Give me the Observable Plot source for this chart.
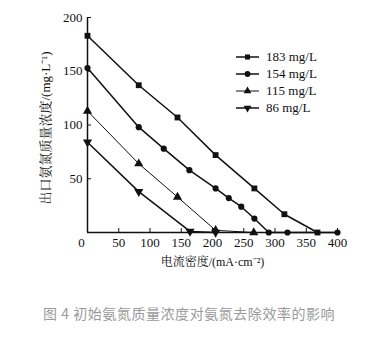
<!DOCTYPE html>
<html><head><meta charset="utf-8">
<script src="https://cdn.jsdelivr.net/npm/d3@7"></script>
<script src="https://cdn.jsdelivr.net/npm/@observablehq/plot@0.6"></script>
<style>
body{margin:0;background:#fff;}
#wrap{position:relative;width:383px;height:280px;}
#legend{position:absolute;left:236px;top:48px;font-family:'Liberation Serif',serif;font-size:13px;color:#111;}
#legend .row{display:flex;align-items:center;height:17px;}
#legend svg{margin-right:7px;}
#caption{font-family:'Noto Sans CJK SC','Noto Sans',sans-serif;font-size:14px;color:#9a9a9a;padding-top:23px;padding-left:43px;line-height:20px;letter-spacing:0.55px;}
</style></head><body>
<div id="wrap"><div id="chart"></div><div id="legend"></div></div>
<div id="caption">图 4 初始氨氮质量浓度对氨氮去除效率的影响</div>
<script>
const seriesNames = ["183 mg/L", "154 mg/L", "115 mg/L", "86 mg/L"];
const x183 = [0, 82, 144, 205, 267, 315, 368];
const y183 = [183, 137, 107, 72, 41, 17, 0];
const x154 = [0, 82, 122, 163, 205, 226, 246, 267, 290, 320, 400];
const y154 = [153, 98, 78, 58, 41, 32, 24, 13, 0, 0, 0];
const x115 = [0, 82, 144, 205, 266];
const y115 = [113, 64, 33, 2, 0];
const x86 = [0, 82, 164, 205];
const y86 = [84, 38, 1, 0];
const xTicks = [50, 100, 150, 200, 250, 300, 350, 400];
const yTicks = [50, 100, 150, 200];
const xLabel = "电流密度/(mA·cm⁻²)";
const yLabel = "出口氨氮质量浓度/(mg·L⁻¹)";

const triangleDown = {
  draw(ctx, size) {
    const y = -Math.sqrt(size / (Math.sqrt(3) * 3));
    const s = Math.sqrt(3);
    ctx.moveTo(0, -y * 2);
    ctx.lineTo(-s * y, y);
    ctx.lineTo(s * y, y);
    ctx.closePath();
  }
};
const symbols = ["square", "circle", "triangle", triangleDown];
const widths = [1.5, 1.5, 1, 1.5];
const radii = [3.3, 3.1, 3.4, 3.4];

const xs = [x183, x154, x115, x86];
const ys = [y183, y154, y115, y86];
const series = xs.map((xv, i) => xv.map((x, j) => ({x, y: ys[i][j], s: seriesNames[i]})));

const font = "'Liberation Serif','Noto Serif CJK SC','Noto Sans CJK SC',serif";
const marks = [];
series.forEach((d, i) => {
  marks.push(Plot.line(d, {x: "x", y: "y", stroke: "#111", strokeWidth: widths[i]}));
});
series.forEach((d, i) => {
  marks.push(Plot.dot(d, {x: "x", y: "y", symbol: () => symbols[i], fill: "#111", stroke: "none", r: radii[i]}));
});
marks.push(Plot.ruleY([0], {stroke: "#111", strokeWidth: 1.5}));
marks.push(Plot.ruleX([0], {stroke: "#111", strokeWidth: 1.5}));
marks.push(Plot.axisX(xTicks, {tickSize: -4, tickPadding: 9, fontSize: 13, label: null}));
marks.push(Plot.axisX([0], {tickSize: 0, tickPadding: 5, fontSize: 13, dx: -6, label: null}));
marks.push(Plot.axisY(yTicks, {tickSize: -4, tickPadding: 9, fontSize: 13, label: null}));
marks.push(Plot.text([xLabel], {frameAnchor: "bottom", dy: 33, fontSize: 12, text: d => d}));
marks.push(Plot.text([yLabel], {frameAnchor: "left", dx: -42, dy: 3, rotate: -90, textAnchor: "middle", fontSize: 13, text: d => d}));

const chart = Plot.plot({
  width: 383, height: 280,
  marginLeft: 87, marginRight: 46, marginTop: 17, marginBottom: 48,
  style: {fontFamily: font, fontSize: "13px", color: "#111", background: "#fff"},
  x: {domain: [0, 400]},
  y: {domain: [0, 200]},
  marks
});
document.getElementById("chart").appendChild(chart);

// legend
const leg = d3.select("#legend");
seriesNames.forEach((name, i) => {
  const row = leg.append("div").attr("class", "row");
  const svg = row.append("svg").attr("width", 23).attr("height", 12);
  svg.append("line").attr("x1", 0).attr("x2", 23).attr("y1", 6).attr("y2", 6)
    .attr("stroke", "#111").attr("stroke-width", widths[i]);
  const sym = typeof symbols[i] === "string"
    ? {square: d3.symbolSquare, circle: d3.symbolCircle, triangle: d3.symbolTriangle}[symbols[i]]
    : symbols[i];
  svg.append("path").attr("transform", "translate(11.5,6)")
    .attr("d", d3.symbol(sym, 26)()).attr("fill", "#111");
  row.append("span").text(name);
});
</script>
</body></html>
